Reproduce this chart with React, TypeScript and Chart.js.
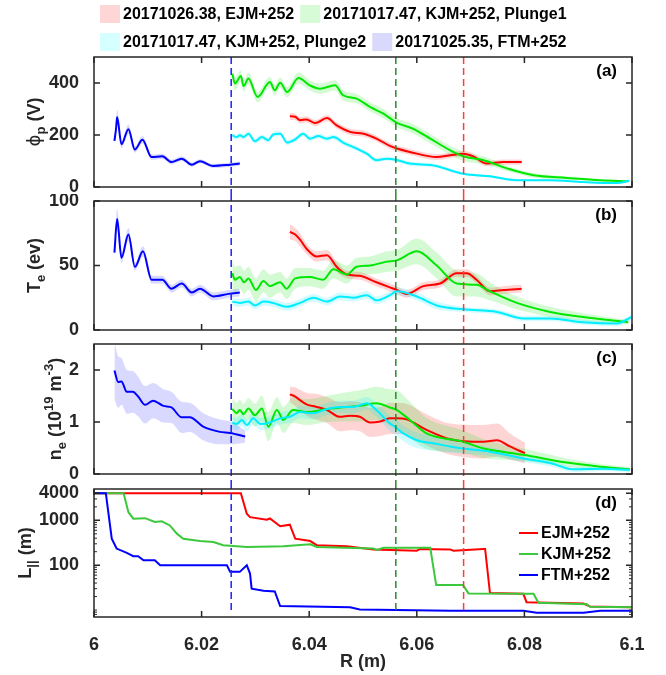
import React, { useEffect, useRef } from 'react';
import { Chart, registerables } from 'chart.js';

Chart.register(...registerables);

const FONT = "'Liberation Sans', Arial, Helvetica, sans-serif";
const AXIS = '#262626';
Chart.defaults.font.family = FONT;

// ---------- shared x axis ----------
const xMin = 6;
const xMax = 6.1;
const xTicks = [6, 6.02, 6.04, 6.06, 6.08, 6.1];
const markerR = [6.0255, 6.0561, 6.0687];
const markerColors = ['#1f1fff', '#2a8a2a', '#ff3b3b'];

// ---------- legend ----------
const legendLabels = ['20171026.38, EJM+252', '20171017.47, KJM+252, Plunge1', '20171017.47, KJM+252, Plunge2', '20171025.35, FTM+252'];
const legendSwatches = ['#ffd6d6', '#d6fbd6', '#d6ffff', '#d9d9fb'];
const innerLabels = ['EJM+252', 'KJM+252', 'FTM+252'];

// ---------- colors ----------
const cRed = '#ff0000';
const cGreen = '#00e800';
const cCyan = '#00eeff';
const cBlue = '#0000ff';
const cGreenD = '#3cc83c';
const bRed = 'rgba(255,0,0,0.17)';
const bGreen = 'rgba(0,225,0,0.17)';
const bCyan = 'rgba(0,235,255,0.18)';
const bBlue = 'rgba(0,0,255,0.15)';

// ---------- (a) phi_p ----------
const phiTicks = [0, 200, 400];
const phiBlueR = [6.0038, 6.0041, 6.0043, 6.0051, 6.0064, 6.0076, 6.0090, 6.0107, 6.0127, 6.0144, 6.0163, 6.0182, 6.0197, 6.0221, 6.0250, 6.0271];
const phiBlue = [177, 225, 269, 164, 222, 144, 182, 115, 118, 96, 109, 86, 99, 81, 85, 90];
const phiBlueErr = [15, 22, 28, 14, 18, 12, 14, 10, 10, 9, 9, 8, 8, 8, 8, 8];
const phiGreenR = [6.0257, 6.0262, 6.0273, 6.0278, 6.0287, 6.0304, 6.0327, 6.0336, 6.0346, 6.0359, 6.0380, 6.0401, 6.0420, 6.0448, 6.0463, 6.0488, 6.0513, 6.0538, 6.0563, 6.0593, 6.0625, 6.0662, 6.0686, 6.0724, 6.0773, 6.0817, 6.0879, 6.0941, 6.0993];
const phiGreen = [436, 398, 427, 388, 417, 346, 404, 372, 401, 365, 419, 391, 378, 391, 353, 340, 308, 282, 247, 224, 186, 141, 118, 103, 68, 45, 35, 26, 22];
const phiGreenErr = [30, 25, 22, 22, 22, 20, 20, 20, 20, 20, 22, 20, 20, 20, 20, 18, 18, 18, 18, 18, 18, 18, 18, 15, 10, 8, 6, 5, 4];
const phiCyanR = [6.0257, 6.0265, 6.0271, 6.0278, 6.0287, 6.0299, 6.0312, 6.0324, 6.0333, 6.0346, 6.0359, 6.0374, 6.0389, 6.0401, 6.0417, 6.0433, 6.0445, 6.0463, 6.0488, 6.0507, 6.0525, 6.0544, 6.0563, 6.0587, 6.0631, 6.0686, 6.0736, 6.0786, 6.0848, 6.0909, 6.0972, 6.0995];
const phiCyan = [199, 192, 199, 192, 205, 176, 192, 180, 202, 205, 171, 183, 205, 186, 196, 186, 192, 171, 148, 128, 103, 109, 104, 90, 83, 51, 41, 26, 26, 19, 15, 24];
const phiCyanErr = [12, 10, 10, 10, 10, 10, 10, 10, 10, 10, 10, 10, 10, 10, 10, 10, 10, 10, 9, 9, 9, 8, 8, 8, 7, 6, 5, 4, 4, 3, 3, 3];
const phiRedR = [6.0364, 6.0374, 6.0383, 6.0395, 6.0411, 6.0433, 6.0451, 6.0476, 6.0501, 6.0525, 6.0550, 6.0563, 6.0587, 6.0637, 6.0662, 6.0686, 6.0705, 6.0730, 6.0761, 6.0795];
const phiRed = [272, 270, 257, 260, 246, 265, 237, 212, 205, 186, 158, 148, 135, 115, 122, 128, 118, 90, 96, 96];
const phiRedErr = [14, 12, 12, 12, 12, 12, 12, 12, 12, 11, 11, 11, 11, 11, 11, 11, 11, 10, 10, 10];

// ---------- (b) Te ----------
const teTicks = [0, 50, 100];
const teBlueR = [6.0038, 6.0043, 6.0051, 6.0064, 6.0076, 6.0091, 6.0107, 6.0127, 6.0144, 6.0163, 6.0182, 6.0197, 6.0222, 6.0250, 6.0271];
const teBlue = [60, 86, 56, 74, 49, 61, 39, 39, 32, 36, 29, 32, 26, 28, 29];
const teBlueErr = [4, 8, 4, 5, 3, 4, 3, 3, 3, 3, 3, 3, 3, 3, 3];
const teGreenR = [6.0257, 6.0262, 6.0271, 6.0279, 6.0287, 6.0301, 6.0315, 6.0327, 6.0346, 6.0358, 6.0374, 6.0401, 6.0426, 6.0445, 6.0470, 6.0488, 6.0513, 6.0544, 6.0563, 6.0600, 6.0637, 6.0674, 6.0711, 6.0736, 6.0786, 6.0848, 6.0909, 6.0993];
const teGreen = [44, 39, 41, 37, 40, 31, 38, 34, 37, 32, 40, 41, 39, 47, 43, 49, 50, 53, 54, 61, 50, 36, 35, 30, 21, 14, 10, 6];
const teGreenErr = [12, 10, 9, 9, 9, 9, 9, 9, 8, 8, 8, 7, 7, 7, 7, 7, 7, 8, 8, 10, 10, 10, 9, 7, 5, 4, 3, 2];
const teCyanR = [6.0257, 6.0271, 6.0287, 6.0299, 6.0315, 6.0333, 6.0358, 6.0383, 6.0408, 6.0433, 6.0457, 6.0482, 6.0507, 6.0525, 6.0550, 6.0563, 6.0600, 6.0637, 6.0686, 6.0749, 6.0798, 6.0848, 6.0909, 6.0972, 6.0999];
const teCyan = [22, 21, 22, 19, 22, 21, 18, 21, 25, 22, 26, 25, 27, 23, 27, 30, 26, 19, 16, 14, 9, 9, 6, 5, 10];
const teCyanErr = [3, 3, 3, 3, 3, 3, 3, 3, 3, 3, 3, 3, 3, 3, 3, 3, 3, 3, 2, 2, 2, 2, 2, 2, 2];
const teRedR = [6.0364, 6.0374, 6.0383, 6.0395, 6.0414, 6.0433, 6.0451, 6.0470, 6.0494, 6.0525, 6.0550, 6.0563, 6.0581, 6.0612, 6.0643, 6.0674, 6.0693, 6.0711, 6.0736, 6.0761, 6.0795];
const teRed = [76, 74, 70, 63, 57, 58, 49, 43, 42, 37, 33, 31, 28, 34, 36, 44, 44, 39, 30, 31, 32];
const teRedErr = [6, 5, 5, 4, 4, 4, 4, 3, 3, 3, 3, 3, 3, 3, 3, 3, 3, 3, 3, 3, 3];

// ---------- (c) ne ----------
const neTicks = [0, 1, 2];
const neBlueR = [6.0038, 6.0045, 6.0051, 6.0061, 6.0072, 6.0082, 6.0095, 6.0110, 6.0129, 6.0144, 6.0163, 6.0178, 6.0203, 6.0234, 6.0253, 6.0281];
const neBlue = [1.99, 1.77, 1.78, 1.58, 1.58, 1.49, 1.33, 1.41, 1.31, 1.28, 1.09, 1.09, 0.91, 0.81, 0.79, 0.72];
const neBlueErr = [0.55, 0.5, 0.45, 0.42, 0.4, 0.38, 0.36, 0.34, 0.32, 0.3, 0.3, 0.28, 0.26, 0.24, 0.22, 0.12];
const neGreenR = [6.0257, 6.0265, 6.0271, 6.0278, 6.0287, 6.0299, 6.0312, 6.0324, 6.0340, 6.0352, 6.0370, 6.0395, 6.0433, 6.0470, 6.0494, 6.0525, 6.0550, 6.0563, 6.0587, 6.0618, 6.0686, 6.0724, 6.0798, 6.0879, 6.0941, 6.0996];
const neGreen = [1.25, 1.17, 1.23, 1.15, 1.26, 1.13, 1.26, 0.91, 1.23, 1.04, 1.23, 1.19, 1.25, 1.29, 1.31, 1.36, 1.28, 1.23, 1.04, 0.78, 0.62, 0.49, 0.37, 0.22, 0.14, 0.09];
const neGreenErr = [0.2, 0.2, 0.2, 0.2, 0.2, 0.22, 0.25, 0.28, 0.25, 0.25, 0.25, 0.25, 0.25, 0.28, 0.3, 0.32, 0.35, 0.38, 0.35, 0.3, 0.22, 0.18, 0.12, 0.08, 0.05, 0.04];
const neCyanR = [6.0257, 6.0265, 6.0275, 6.0284, 6.0296, 6.0309, 6.0327, 6.0346, 6.0364, 6.0383, 6.0408, 6.0433, 6.0457, 6.0482, 6.0507, 6.0525, 6.0547, 6.0563, 6.0575, 6.0600, 6.0631, 6.0662, 6.0686, 6.0736, 6.0798, 6.0848, 6.0891, 6.0947, 6.0996];
const neCyan = [0.99, 0.96, 1.04, 0.94, 1.07, 0.96, 0.99, 1.07, 1.10, 1.19, 1.17, 1.25, 1.29, 1.29, 1.36, 1.23, 1.0, 0.88, 0.78, 0.65, 0.59, 0.53, 0.49, 0.43, 0.30, 0.21, 0.09, 0.10, 0.08];
const neCyanErr = [0.12, 0.12, 0.12, 0.12, 0.12, 0.12, 0.12, 0.12, 0.12, 0.12, 0.12, 0.12, 0.12, 0.12, 0.12, 0.13, 0.15, 0.15, 0.15, 0.15, 0.14, 0.12, 0.1, 0.08, 0.07, 0.06, 0.05, 0.04, 0.04];
const neRedR = [6.0364, 6.0374, 6.0383, 6.0395, 6.0414, 6.0433, 6.0457, 6.0476, 6.0494, 6.0513, 6.0532, 6.0550, 6.0563, 6.0581, 6.0618, 6.0662, 6.0724, 6.0749, 6.0773, 6.0801];
const neRed = [1.53, 1.49, 1.42, 1.34, 1.29, 1.23, 1.10, 1.12, 1.10, 0.99, 1.01, 1.07, 1.07, 1.05, 0.85, 0.67, 0.62, 0.65, 0.53, 0.40];
const neRedErr = [0.15, 0.18, 0.2, 0.22, 0.25, 0.25, 0.28, 0.28, 0.28, 0.28, 0.28, 0.3, 0.3, 0.3, 0.3, 0.3, 0.32, 0.32, 0.25, 0.2];

// ---------- (d) L_parallel ----------
const lTicks = [100, 1000, 4000];
const lMinorTicks = [8, 9, 10, 20, 30, 40, 50, 60, 70, 80, 90, 200, 300, 400, 500, 600, 700, 800, 900, 2000, 3000];
const lRedR = [6.0, 6.0273, 6.0284, 6.0290, 6.0321, 6.0327, 6.0346, 6.0364, 6.0374, 6.0402, 6.0414, 6.0470, 6.0519, 6.0600, 6.0606, 6.0662, 6.0668, 6.0724, 6.0727, 6.0736, 6.0798, 6.0804, 6.0910, 6.0922, 6.1];
const lRed = [4000, 4000, 1400, 1180, 1030, 1100, 740, 800, 390, 345, 280, 264, 223, 210, 230, 225, 210, 230, 230, 24, 23, 15, 14, 12, 11.5];
const lGreenR = [6.0, 6.0055, 6.0064, 6.0073, 6.0095, 6.0113, 6.0126, 6.0141, 6.0154, 6.0166, 6.0197, 6.0222, 6.0240, 6.0284, 6.0352, 6.0402, 6.0414, 6.0519, 6.0526, 6.0538, 6.0625, 6.0636, 6.0686, 6.0696, 6.0817, 6.0826, 6.0916, 6.0922, 6.1];
const lGreen = [4000, 4000, 1520, 1090, 1120, 920, 950, 770, 505, 390, 345, 330, 280, 255, 264, 292, 255, 235, 220, 245, 245, 36, 36, 23.5, 23, 14.5, 13.5, 11.8, 11.5];
const lBlueR = [6.0, 6.0022, 6.0033, 6.0042, 6.0061, 6.0073, 6.0082, 6.0092, 6.0113, 6.0123, 6.0247, 6.0253, 6.0271, 6.0284, 6.0290, 6.0293, 6.0315, 6.0336, 6.0346, 6.0476, 6.0494, 6.0662, 6.0798, 6.0823, 6.0910, 6.0941, 6.1];
const lBlue = [4000, 4000, 390, 235, 188, 159, 159, 129, 129, 100, 100, 71, 71, 100, 65, 30, 27, 26, 12.3, 11.5, 10.3, 9.7, 9.7, 8.7, 8.7, 9.7, 9.7];

// ---------- helpers ----------
function lineDs(xs: number[], ys: number[], color: string, order: number, smooth = true) {
  return {
    data: xs.map((x, i) => ({ x, y: ys[i] })),
    borderColor: color,
    backgroundColor: color,
    borderWidth: 2,
    pointRadius: 0,
    fill: false,
    order,
    tension: 0,
    cubicInterpolationMode: smooth ? 'monotone' : 'default',
  };
}

function bandDs(xs: number[], ys: number[], err: number[], color: string, order: number) {
  return [
    {
      data: xs.map((x, i) => ({ x, y: ys[i] + err[i] })),
      borderColor: 'rgba(0,0,0,0)', borderWidth: 0, pointRadius: 0, fill: false, order,
      cubicInterpolationMode: 'monotone',
    },
    {
      data: xs.map((x, i) => ({ x, y: ys[i] - err[i] })),
      borderColor: 'rgba(0,0,0,0)', borderWidth: 0, pointRadius: 0, fill: '-1', backgroundColor: color, order,
      cubicInterpolationMode: 'monotone',
    },
  ];
}

type Part = { t: string; kind?: 'sub' | 'sup' | 'sym' };

function drawTitle(ctx: CanvasRenderingContext2D, parts: Part[], cx: number, cy: number) {
  const main = `bold 18px ${FONT}`;
  const small = `bold 13px ${FONT}`;
  const sym = `18px 'DejaVu Sans', sans-serif`;
  const fontOf = (p: Part) => (p.kind === 'sub' || p.kind === 'sup' ? small : p.kind === 'sym' ? sym : main);
  ctx.save();
  ctx.translate(cx, cy);
  ctx.rotate(-Math.PI / 2);
  ctx.textBaseline = 'middle';
  ctx.textAlign = 'left';
  let total = 0;
  const widths = parts.map((p) => {
    ctx.font = fontOf(p);
    const w = ctx.measureText(p.t).width;
    total += w;
    return w;
  });
  let x = -total / 2;
  parts.forEach((p, i) => {
    ctx.font = fontOf(p);
    const dy = p.kind === 'sub' ? 6 : p.kind === 'sup' ? -7 : 0;
    ctx.fillText(p.t, x, dy);
    x += widths[i];
  });
  ctx.restore();
}

type Spec = {
  key: string; top: number; height: number; padTop: number; padBottom: number;
  yType: string; yMin: number; yMax: number; yTicks: number[]; minor?: number[];
  showX: boolean; datasets: any[]; label: string; title: Part[]; titleX: number;
};

function makeDecor(spec: Spec) {
  return {
    id: 'decor' + spec.key,
    afterDraw(chart: any) {
      const ctx: CanvasRenderingContext2D = chart.ctx;
      const a = chart.chartArea;
      const xs = chart.scales.x;
      const ys = chart.scales.y;
      ctx.save();
      const y0 = spec.key === 'a' ? a.top : 0;
      const y1 = spec.key === 'd' ? a.bottom - 3 : chart.height;
      ctx.lineWidth = 1.5;
      ctx.setLineDash([7, 4]);
      markerR.forEach((r, i) => {
        const px = xs.getPixelForValue(r);
        ctx.strokeStyle = markerColors[i];
        ctx.beginPath();
        ctx.moveTo(px, y0);
        ctx.lineTo(px, y1);
        ctx.stroke();
      });
      ctx.setLineDash([]);
      ctx.strokeStyle = AXIS;
      ctx.lineWidth = 1.5;
      ctx.strokeRect(a.left, a.top, a.right - a.left, a.bottom - a.top);
      ctx.beginPath();
      xTicks.forEach((v) => {
        const px = xs.getPixelForValue(v);
        ctx.moveTo(px, a.top); ctx.lineTo(px, a.top + 6);
        ctx.moveTo(px, a.bottom); ctx.lineTo(px, a.bottom - 6);
      });
      spec.yTicks.forEach((v) => {
        const py = ys.getPixelForValue(v);
        ctx.moveTo(a.left, py); ctx.lineTo(a.left + 6, py);
        ctx.moveTo(a.right, py); ctx.lineTo(a.right - 6, py);
      });
      ctx.stroke();
      if (spec.minor) {
        ctx.lineWidth = 1;
        ctx.beginPath();
        spec.minor.forEach((v) => {
          const py = ys.getPixelForValue(v);
          ctx.moveTo(a.left, py); ctx.lineTo(a.left + 3, py);
          ctx.moveTo(a.right, py); ctx.lineTo(a.right - 3, py);
        });
        ctx.stroke();
      }
      ctx.fillStyle = '#000';
      ctx.font = `bold 17px ${FONT}`;
      ctx.textAlign = 'right';
      ctx.textBaseline = 'middle';
      ctx.fillText(spec.label, a.right - 15, a.top + 14);
      ctx.fillStyle = AXIS;
      drawTitle(ctx, spec.title, spec.titleX, (a.top + a.bottom) / 2);
      if (spec.key === 'a') {
        ctx.font = `bold 16px ${FONT}`;
        ctx.textAlign = 'left';
        ctx.textBaseline = 'middle';
        const rows = [[0, 1], [2, 3]];
        const rowY = [14, 42];
        rows.forEach((row, r) => {
          let x = 100;
          row.forEach((i) => {
            ctx.fillStyle = legendSwatches[i];
            ctx.fillRect(x, rowY[r] - 9, 20, 18);
            ctx.fillStyle = '#000';
            ctx.fillText(legendLabels[i], x + 23, rowY[r] + 1);
            x += 23 + ctx.measureText(legendLabels[i]).width + 6;
          });
        });
      }
      if (spec.key === 'd') {
        const cols = [cRed, cGreenD, cBlue];
        ctx.font = `bold 16px ${FONT}`;
        ctx.textAlign = 'left';
        ctx.textBaseline = 'middle';
        innerLabels.forEach((t, i) => {
          const yy = a.top + 44 + i * 21;
          ctx.strokeStyle = cols[i];
          ctx.lineWidth = 2;
          ctx.beginPath();
          ctx.moveTo(a.right - 113, yy);
          ctx.lineTo(a.right - 94, yy);
          ctx.stroke();
          ctx.fillStyle = '#000';
          ctx.fillText(t, a.right - 91, yy + 1);
        });
      }
      ctx.restore();
    },
  };
}

const tickFont = { family: FONT, size: 18, weight: 'bold' as const };

function buildConfig(spec: Spec): any {
  return {
    type: 'line',
    data: { datasets: spec.datasets },
    options: {
      animation: false,
      responsive: false,
      maintainAspectRatio: false,
      events: [],
      layout: { padding: { left: 0, right: 34, top: spec.padTop, bottom: spec.padBottom } },
      plugins: {
        legend: { display: false },
        tooltip: { enabled: false },
        filler: { propagate: false, drawTime: 'beforeDatasetsDraw' },
      },
      scales: {
        x: {
          type: 'linear',
          min: xMin,
          max: xMax,
          display: spec.showX,
          grid: { display: false },
          border: { display: false },
          afterBuildTicks: (s: any) => { s.ticks = xTicks.map((v) => ({ value: v })); },
          ticks: {
            autoSkip: false, maxRotation: 0, minRotation: 0, padding: 9, color: AXIS, font: tickFont,
            callback: (v: any) => String(Number(Number(v).toFixed(2))),
          },
          title: { display: spec.showX, text: 'R (m)', color: AXIS, font: tickFont, padding: { top: 0, bottom: 2 } },
          afterFit: (s: any) => {
            if (spec.showX) { s.height = 58; s.paddingLeft = 0; s.paddingRight = 0; }
          },
        },
        y: {
          type: spec.yType,
          min: spec.yMin,
          max: spec.yMax,
          grid: { display: false },
          border: { display: false },
          afterBuildTicks: (s: any) => { s.ticks = spec.yTicks.map((v) => ({ value: v })); },
          ticks: { padding: 7, color: AXIS, font: tickFont, callback: (v: any) => String(v) },
          afterFit: (s: any) => { s.width = 94; s.paddingTop = 0; s.paddingBottom = 0; },
        },
      },
    },
    plugins: [makeDecor(spec)],
  };
}

const specs: Spec[] = [
  {
    key: 'a', top: 0, height: 194, padTop: 57, padBottom: 7,
    yType: 'linear', yMin: 0, yMax: 500, yTicks: phiTicks, showX: false, label: '(a)',
    title: [{ t: '\u03D5', kind: 'sym' }, { t: 'p', kind: 'sub' }, { t: ' (V)' }], titleX: 35,
    datasets: [
      ...bandDs(phiRedR, phiRed, phiRedErr, bRed, 14),
      ...bandDs(phiGreenR, phiGreen, phiGreenErr, bGreen, 13),
      ...bandDs(phiCyanR, phiCyan, phiCyanErr, bCyan, 12),
      ...bandDs(phiBlueR, phiBlue, phiBlueErr, bBlue, 11),
      lineDs(phiRedR, phiRed, cRed, 4),
      lineDs(phiGreenR, phiGreen, cGreen, 3),
      lineDs(phiCyanR, phiCyan, cCyan, 2),
      lineDs(phiBlueR, phiBlue, cBlue, 1),
    ],
  },
  {
    key: 'b', top: 194, height: 143, padTop: 7, padBottom: 7,
    yType: 'linear', yMin: 0, yMax: 100, yTicks: teTicks, showX: false, label: '(b)',
    title: [{ t: 'T' }, { t: 'e', kind: 'sub' }, { t: ' (ev)' }], titleX: 35,
    datasets: [
      ...bandDs(teRedR, teRed, teRedErr, bRed, 14),
      ...bandDs(teGreenR, teGreen, teGreenErr, bGreen, 13),
      ...bandDs(teCyanR, teCyan, teCyanErr, bCyan, 12),
      ...bandDs(teBlueR, teBlue, teBlueErr, bBlue, 11),
      lineDs(teRedR, teRed, cRed, 4),
      lineDs(teGreenR, teGreen, cGreen, 3),
      lineDs(teCyanR, teCyan, cCyan, 2),
      lineDs(teBlueR, teBlue, cBlue, 1),
    ],
  },
  {
    key: 'c', top: 337, height: 145, padTop: 7, padBottom: 8,
    yType: 'linear', yMin: 0, yMax: 2.5, yTicks: neTicks, showX: false, label: '(c)',
    title: [{ t: 'n' }, { t: 'e', kind: 'sub' }, { t: ' (10' }, { t: '19', kind: 'sup' }, { t: ' m' }, { t: '-3', kind: 'sup' }, { t: ')' }],
    titleX: 56,
    datasets: [
      ...bandDs(neRedR, neRed, neRedErr, bRed, 14),
      ...bandDs(neGreenR, neGreen, neGreenErr, bGreen, 13),
      ...bandDs(neCyanR, neCyan, neCyanErr, bCyan, 12),
      ...bandDs(neBlueR, neBlue, neBlueErr, bBlue, 11),
      lineDs(neRedR, neRed, cRed, 4),
      lineDs(neGreenR, neGreen, cGreen, 3),
      lineDs(neCyanR, neCyan, cCyan, 2),
      lineDs(neBlueR, neBlue, cBlue, 1),
    ],
  },
  {
    key: 'd', top: 482, height: 193, padTop: 7, padBottom: 0,
    yType: 'logarithmic', yMin: 7, yMax: 5000, yTicks: lTicks, minor: lMinorTicks, showX: true, label: '(d)',
    title: [{ t: 'L' }, { t: '||', kind: 'sub' }, { t: ' (m)' }], titleX: 26,
    datasets: [
      lineDs(lRedR, lRed, cRed, 3, false),
      lineDs(lGreenR, lGreen, cGreenD, 2, false),
      lineDs(lBlueR, lBlue, cBlue, 1, false),
    ],
  },
];

function Panel({ spec }: { spec: Spec }) {
  const ref = useRef<HTMLCanvasElement>(null);
  useEffect(() => {
    const chart = new Chart(ref.current as HTMLCanvasElement, buildConfig(spec));
    return () => chart.destroy();
  }, []);
  return (
    <canvas
      ref={ref}
      width={666}
      height={spec.height}
      style={{ position: 'absolute', left: 0, top: spec.top, width: 666, height: spec.height }}
    />
  );
}

export default function App() {
  return (
    <div style={{ position: 'absolute', left: 0, top: 0, width: 666, height: 675, background: '#fff', overflow: 'hidden' }}>
      {specs.map((s) => (
        <Panel key={s.key} spec={s} />
      ))}
    </div>
  );
}
